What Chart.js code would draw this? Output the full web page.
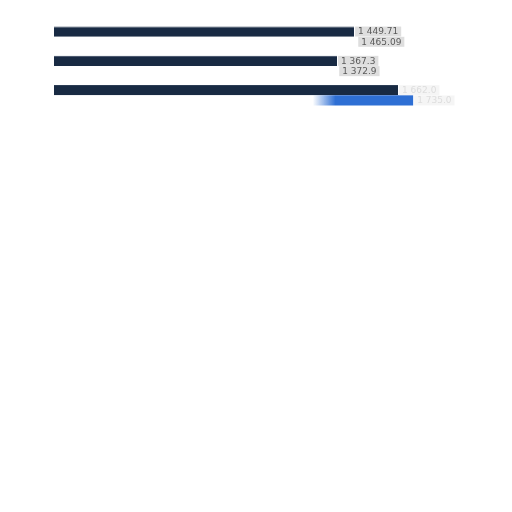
<!DOCTYPE html>
<html><head><meta charset="utf-8">
<script src="https://cdn.jsdelivr.net/npm/chart.js@4/dist/chart.umd.min.js"></script>
<style>html,body{margin:0;padding:0;background:#fff}#wrap{width:512px;height:512px}</style>
</head><body><div id="wrap"><canvas id="c" width="512" height="512"></canvas></div>
<script>
const categories = ["A", "B", "C"];
const seriesA = [1449.71, 1367.3, 1662.0];
const seriesB = [1465.09, 1372.9, 1735.0];
const colorsB = ["#ffffff", "#ffffff", "#2e6fd4"];
const labelsA = ["1 449.71", "1 367.3", "1 662.0"];
const labelsB = ["1 465.09", "1 372.9", "1 735.0"];

function colorB(ctx) {
  const i = ctx.dataIndex;
  const base = colorsB[i];
  if (base === "#ffffff") return base;
  const chart = ctx.chart;
  const xs = chart.scales.x;
  if (!xs || !chart.chartArea) return base;
  const g = chart.ctx.createLinearGradient(xs.getPixelForValue(1250), 0, xs.getPixelForValue(1360), 0);
  g.addColorStop(0, "rgba(46,111,212,0)");
  g.addColorStop(1, base);
  return g;
}

const labelPlugin = {
  id: "barLabels",
  afterDatasetsDraw(chart) {
    const ctx = chart.ctx;
    ctx.save();
    ctx.font = "9px 'DejaVu Sans'";
    ctx.textBaseline = "middle";
    const sets = [labelsA, labelsB];
    chart.data.datasets.forEach((ds, di) => {
      const meta = chart.getDatasetMeta(di);
      meta.data.forEach((bar, i) => {
        const txt = sets[di][i];
        const faint = i === 2;
        const w = ctx.measureText(txt).width + 6;
        const h = 10;
        const x = bar.x + 1;
        const y = bar.y - h / 2;
        ctx.fillStyle = faint ? "rgba(238,238,238,0.6)" : "rgba(218,218,218,0.9)";
        ctx.fillRect(x, y, w, h);
        ctx.fillStyle = faint ? "rgba(205,205,205,0.6)" : "#5a5a5a";
        ctx.fillText(txt, x + 3, bar.y + 0.5);
      });
    });
    ctx.restore();
  }
};

new Chart(document.getElementById("c"), {
  type: "bar",
  data: {
    labels: categories,
    datasets: [
      { data: seriesA, backgroundColor: "#182a43", borderColor: "#2c3d55", borderWidth: {top:1,bottom:0,left:0,right:0}, categoryPercentage: 0.7, barPercentage: 1.0 },
      { data: seriesB, backgroundColor: colorB, borderWidth: 0, categoryPercentage: 0.7, barPercentage: 1.0 }
    ]
  },
  options: {
    indexAxis: "y",
    responsive: false,
    animation: false,
    devicePixelRatio: 1,
    layout: { padding: { left: 54, right: 44, top: 22, bottom: 402 } },
    plugins: { legend: { display: false }, tooltip: { enabled: false } },
    scales: {
      x: { display: false, min: 0, max: 2000 },
      y: { display: false }
    }
  },
  plugins: [labelPlugin]
});
</script></body></html>
